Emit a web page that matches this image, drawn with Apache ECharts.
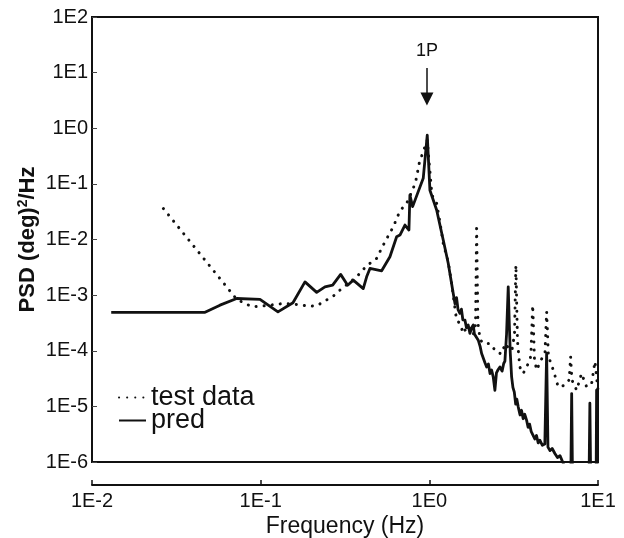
<!DOCTYPE html>
<html><head><meta charset="utf-8">
<script src="https://cdn.jsdelivr.net/npm/echarts@6/dist/echarts.min.js"></script>
<style>html,body{margin:0;padding:0;background:#fff}#c{width:624px;height:538px}</style>
</head><body><div id="c"></div>
<script>
// ---- data ----
const predFreq = [0.0130,0.0468,0.0574,0.0721,0.0991,0.1266,0.1554,0.1831,0.2148,0.2405,0.2672,0.2980,0.3279,0.3539,0.4057,0.4249,0.4446,0.5216,0.5840,0.640,0.6695,0.7169,0.757,0.767,0.796,0.920,0.972,1.008,1.105,1.209,1.295,1.386,
  1.42,1.45,1.48,1.518,1.55,1.58,1.626,1.66,1.70,1.741,1.78,1.821,1.85,1.90,1.95,2.0,2.042,2.09,2.14,2.187,2.24,2.29,2.34,2.392,2.448,2.50,2.56,2.621,2.70,2.76,2.806,2.87,2.936,2.98,3.02,3.075,3.13,3.19,3.25,3.30,3.365,3.45,3.52,3.60,3.68,3.775,3.85,3.93,4.02,4.13,4.22,4.32,4.42,4.52,4.68,4.84,4.96,5.05,5.2,5.35,5.55,5.75,5.95,6.22,6.5,6.9,6.98,7.06,8.85,8.95,9.05,9.75,9.81,9.9];
const predPsd = [4.9e-4,4.9e-4,6.6e-4,8.7e-4,8.4e-4,5.0e-4,7.3e-4,1.73e-3,1.12e-3,1.41e-3,1.51e-3,2.36e-3,1.51e-3,1.86e-3,1.31e-3,2.13e-3,3.02e-3,2.74e-3,4.89e-3,1.12e-2,1.20e-2,1.82e-2,1.48e-2,6.3e-2,3.9e-2,0.126,0.755,7.7e-2,3.4e-2,9.8e-3,3.7e-3,1.07e-3,
  7.0e-4,9.0e-4,5.5e-4,4.7e-4,5.6e-4,3.6e-4,3.55e-4,2.6e-4,2.9e-4,2.05e-4,2.6e-4,2.9e-4,2.0e-4,1.9e-4,1.55e-4,1.2e-4,8.9e-5,9.5e-5,6.0e-5,5.1e-5,5.8e-5,3.9e-5,4.5e-5,3.4e-5,1.95e-5,4.0e-5,4.6e-5,5.1e-5,4.3e-5,5.9e-5,6.5e-5,2.0e-4,1.41e-3,3.0e-4,9.0e-5,3.4e-5,2.2e-5,1.8e-5,1.1e-5,1.35e-5,9.8e-6,7.0e-6,8.5e-6,6.0e-6,7.2e-6,5.6e-6,4.2e-6,4.8e-6,3.5e-6,3.25e-6,2.6e-6,3.0e-6,2.2e-6,2.47e-6,2.0e-6,2.1e-6,9.1e-5,1.85e-6,1.6e-6,1.75e-6,1.42e-6,1.2e-6,1.3e-6,9.5e-7,6e-7,5e-7,1.7e-5,5e-7,5e-7,1.14e-5,5e-7,5e-7,1.95e-5,5e-7];

const testFreq = [0.0265,0.0721,0.0885,0.0991,0.1232,0.1374,0.1727,0.1941,0.2165,0.2405,0.2672,0.2980,0.3707,0.4249,0.487,0.5144,0.5455,0.5785,0.611,0.640,0.6695,0.7335,0.803,0.833,0.852,0.871,0.900,0.942,0.972,1.036,1.105,1.156,1.209,1.295,1.36,1.451,1.518,1.589,1.626,1.741,1.82,1.88,1.907,1.94,2.0,2.087,2.287,2.448,2.621,2.742,2.85,2.94,3.1,3.2,3.26,3.33,3.44,3.60,3.86,4.0,4.10,4.2,4.33,4.59,4.85,4.96,5.08,5.43,5.81,6.37,6.75,6.88,7.0,7.47,7.99,8.56,9.17,9.59,10.0];
const testPsd = [3.6e-2,8.4e-4,6.2e-4,6.3e-4,6.8e-4,7.1e-4,6.7e-4,6.3e-4,6.5e-4,7.9e-4,9.4e-4,1.26e-3,2.13e-3,3.37e-3,4.57e-3,6.4e-3,9.1e-3,1.25e-2,1.69e-2,2.36e-2,3.28e-2,4.46e-2,8.3e-2,0.117,0.165,0.234,0.316,0.465,0.61,6.3e-2,4.46e-2,2.06e-2,8.5e-3,3.9e-3,1.51e-3,3.55e-4,3.1e-4,2.05e-4,2.35e-4,2.69e-4,1.91e-4,3.0e-4,1.58e-2,3.2e-4,1.6e-4,1.35e-4,1.35e-4,1.03e-4,8.9e-5,1.17e-4,1.0e-4,1.3e-4,1.1e-4,2.0e-4,3.47e-3,1.5e-4,5.1e-5,3.9e-5,5.9e-5,8.0e-5,6.6e-4,7.0e-5,4.5e-5,6.8e-5,9.0e-5,5.0e-4,8.0e-5,4.5e-5,2.24e-5,2.4e-5,3.0e-5,7.8e-5,3.0e-5,1.95e-5,3.9e-5,2.24e-5,2.58e-5,6.4e-5,1.95e-5];

const seriesNames = ['test data', 'pred'];
const xTickLabels = ['1E-2','1E-1','1E0','1E1'];      // exponents -2..1
const yTickLabels = ['1E-6','1E-5','1E-4','1E-3','1E-2','1E-1','1E0','1E1','1E2']; // exponents -6..2
const annotLabel = '1P';
const annotFreq = 0.968;
const annotTop = 12.1;
const annotTip = 3.35;

const FONT = '"Liberation Sans", Arial, Helvetica, sans-serif';
const INK = '#111';

const chart = echarts.init(document.getElementById('c'), null, {renderer: 'canvas'});
const zip = (a, b) => a.map((v, i) => [v, b[i]]);

const legendBase = {padding: 0, itemWidth: 27, itemHeight: 20, itemStyle: {opacity: 0},
  textStyle: {fontFamily: FONT, fontSize: 27, color: INK}};

chart.setOption({
  animation: false,
  backgroundColor: '#fff',
  grid: {left: 92, right: 26, top: 17, bottom: 76, outerBoundsMode: 'none', containLabel: false,
    show: true, borderColor: INK, borderWidth: 2, backgroundColor: 'transparent'},
  xAxis: {
    type: 'log', logBase: 10, min: 0.01, max: 10, interval: 1,
    offset: 23,
    axisLine: {show: true, lineStyle: {color: INK, width: 2}},
    axisTick: {show: true, inside: true, length: 5, lineStyle: {color: INK, width: 1.5}},
    splitLine: {show: false},
    axisLabel: {fontFamily: FONT, fontSize: 20, color: INK, margin: 6,
      formatter: v => xTickLabels[Math.round(Math.log10(v)) + 2]},
    name: 'Frequency (Hz)', nameLocation: 'middle', nameGap: 30, nameMoveOverlap: false,
    nameTextStyle: {fontFamily: FONT, fontSize: 23, color: INK}
  },
  yAxis: {
    type: 'log', logBase: 10, min: 1e-6, max: 100, interval: 1,
    axisLine: {show: true, lineStyle: {color: INK, width: 2}},
    axisTick: {show: true, inside: true, length: 5, lineStyle: {color: '#444', width: 1}},
    splitLine: {show: false},
    axisLabel: {fontFamily: FONT, fontSize: 20, color: INK, margin: 4,
      formatter: v => yTickLabels[Math.round(Math.log10(v)) + 6]},
    name: 'PSD (deg){sup|2}/Hz', nameLocation: 'middle', nameGap: 52, nameMoveOverlap: false,
    nameTextStyle: {fontFamily: FONT, fontSize: 22, fontWeight: 'bold', color: INK,
      rich: {sup: {fontFamily: FONT, fontSize: 14, fontWeight: 'bold', color: INK, verticalAlign: 'top', padding: [0, 0, 10, 0]}}}
  },
  legend: [
    Object.assign({data: [seriesNames[0]], left: 118, top: 384}, legendBase),
    Object.assign({data: [seriesNames[1]], left: 118, top: 407}, legendBase)
  ],
  series: [
    {
      name: seriesNames[0], type: 'line', data: zip(testFreq, testPsd),
      symbol: 'none', clip: true, z: 2,
      itemStyle: {color: INK},
      lineStyle: {color: INK, width: 3, type: [0.1, 8], cap: 'round'}
    },
    {
      name: seriesNames[1], type: 'line', data: zip(predFreq, predPsd),
      symbol: 'none', clip: true, z: 3,
      itemStyle: {color: INK},
      lineStyle: {color: INK, width: 2.8, join: 'round'},
      markLine: {
        silent: true, animation: false,
        symbol: ['none', 'triangle'], symbolSize: 13,
        lineStyle: {color: INK, width: 1.5, type: 'solid'},
        label: {show: true, position: 'start', formatter: annotLabel, distance: 8,
          fontFamily: FONT, fontSize: 18, color: INK},
        data: [[{coord: [annotFreq, annotTop]}, {coord: [annotFreq, annotTip]}]]
      }
    }
  ]
});
</script>
</body></html>
